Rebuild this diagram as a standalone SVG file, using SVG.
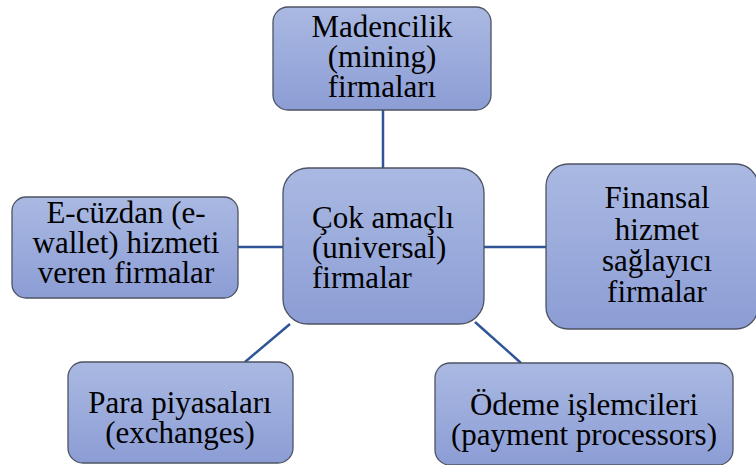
<svg xmlns="http://www.w3.org/2000/svg" width="756" height="465" viewBox="0 0 756 465" font-family="Liberation Serif">
<defs>
<linearGradient id="g" x1="0" y1="0" x2="0" y2="1">
<stop offset="0" stop-color="#aab9e2"/>
<stop offset="1" stop-color="#8c9dd5"/>
</linearGradient>
</defs>
<style>
.box{fill:url(#g);stroke:#4d5363;stroke-width:1.3}
.ln{stroke:#2f5597;stroke-width:2.5;fill:none}
</style>
<rect width="756" height="465" fill="#fff"/>
<g id="connectors">
<line class="ln" x1="383" y1="110" x2="383" y2="168"/>
<line class="ln" x1="238" y1="247" x2="283" y2="247"/>
<line class="ln" x1="484" y1="247" x2="546" y2="247"/>
<line class="ln" x1="290" y1="324" x2="245" y2="362"/>
<line class="ln" x1="475" y1="322" x2="521" y2="363"/>
</g>
<g id="mining">
<rect class="box" x="273" y="7" width="218" height="103" rx="15"/>
<text text-anchor="middle" font-family="Liberation Serif" font-size="31" x="382" y="37">Madencilik</text>
<text text-anchor="middle" font-family="Liberation Serif" font-size="31" x="382" y="67">(mining)</text>
<text text-anchor="middle" font-family="Liberation Serif" font-size="31" x="382" y="97">firmaları</text>
</g>
<g id="universal">
<rect class="box" x="283" y="168" width="201" height="156" rx="25"/>
<text font-family="Liberation Serif" font-size="31" x="312" y="228">Çok amaçlı</text>
<text font-family="Liberation Serif" font-size="31" x="312" y="258">(universal)</text>
<text font-family="Liberation Serif" font-size="31" x="312" y="288">firmalar</text>
</g>
<g id="ewallet">
<rect class="box" x="12" y="197" width="226" height="101" rx="14"/>
<text text-anchor="middle" font-family="Liberation Serif" font-size="31" x="126" y="223">E-cüzdan (e-</text>
<text text-anchor="middle" font-family="Liberation Serif" font-size="31" x="126" y="253">wallet) hizmeti</text>
<text text-anchor="middle" font-family="Liberation Serif" font-size="31" x="126" y="283">veren firmalar</text>
</g>
<g id="finansal">
<rect class="box" x="546" y="164" width="212" height="165" rx="22"/>
<text text-anchor="middle" font-family="Liberation Serif" font-size="31" x="657" y="208">Finansal</text>
<text text-anchor="middle" font-family="Liberation Serif" font-size="31" x="657" y="240">hizmet</text>
<text text-anchor="middle" font-family="Liberation Serif" font-size="31" x="657" y="271">sağlayıcı</text>
<text text-anchor="middle" font-family="Liberation Serif" font-size="31" x="657" y="302">firmalar</text>
</g>
<g id="exchanges">
<rect class="box" x="68" y="362" width="225" height="101" rx="15"/>
<text text-anchor="middle" font-family="Liberation Serif" font-size="31" x="180" y="413">Para piyasaları</text>
<text text-anchor="middle" font-family="Liberation Serif" font-size="31" x="180" y="443">(exchanges)</text>
</g>
<g id="payment">
<rect class="box" x="435" y="363" width="298" height="102" rx="15"/>
<text text-anchor="middle" font-family="Liberation Serif" font-size="31" x="584" y="415">Ödeme işlemcileri</text>
<text text-anchor="middle" font-family="Liberation Serif" font-size="31" x="584" y="445">(payment processors)</text>
</g>
</svg>
